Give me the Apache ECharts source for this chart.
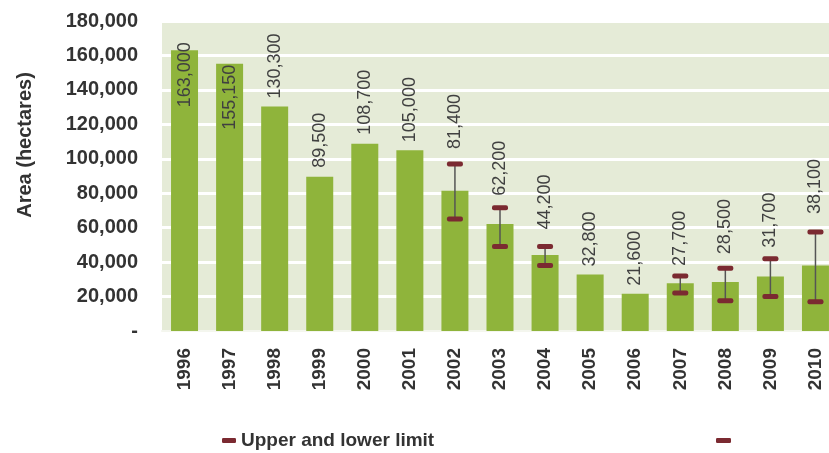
<!DOCTYPE html>
<html>
<head>
<meta charset="utf-8">
<script src="https://cdn.jsdelivr.net/npm/echarts@6/dist/echarts.min.js"></script>
<style>
  html, body { margin: 0; padding: 0; background: #fff; }
  #chart { width: 829px; height: 453px; }
</style>
</head>
<body>
<div id="chart"></div>
<script>
  // data
  var years = ['1996', '1997', '1998', '1999', '2000', '2001', '2002', '2003', '2004', '2005', '2006', '2007', '2008', '2009', '2010']
  var area = [163000, 155150, 130300, 89500, 108700, 105000, 81400, 62200, 44200, 32800, 21600, 27700, 28500, 31700, 38100]
  var lowerLimit = [null, null, null, null, null, null, 65000, 49000, 38000, null, null, 22000, 17500, 20000, 17000]
  var upperLimit = [null, null, null, null, null, null, 97000, 71500, 49000, null, null, 32000, 36500, 42000, 57500]

  // label placement (px above bar / upper limit; negative = inside the bar)
  var labelGap = [-8, 1, 8, 9, 9, 8, 15, 12, 17, 8, 8, 10, 14, 11, 18]

  var FONT = 'Liberation Sans, Arial, sans-serif'
  var capColor = '#7b2a31'

  var errData = []
  var labelData = []
  for (var i = 0; i < years.length; i++) {
    if (lowerLimit[i] != null) errData.push([i, lowerLimit[i], upperLimit[i]])
    labelData.push([i, area[i]])
  }

  var chart = echarts.init(document.getElementById('chart'))
  var option = {
    animation: false,
    textStyle: { fontFamily: FONT },
    grid: {
      left: 162, top: 21, bottom: 122, width: 676,
      outerBoundsMode: 'none',
      show: true, backgroundColor: '#e5ebd7', borderWidth: 0
    },
    legend: [
      {
        data: ['Upper and lower limit'],
        left: 217, top: 426,
        icon: 'roundRect', itemWidth: 14, itemHeight: 5, itemGap: 5,
        itemStyle: { color: capColor },
        textStyle: { fontFamily: FONT, fontSize: 19, fontWeight: 'bold', color: '#333' }
      },
      {
        data: ['Limit'],
        left: 711, top: 433,
        icon: 'roundRect', itemWidth: 15, itemHeight: 5,
        itemStyle: { color: capColor },
        formatter: function () { return '' },
        textStyle: { fontSize: 19 }
      }
    ],
    xAxis: {
      type: 'category',
      data: years,
      axisTick: { show: false },
      axisLine: { lineStyle: { color: '#f4f6ee', width: 2 } },
      axisLabel: {
        rotate: 90, margin: 17, interval: 0,
        fontFamily: FONT, fontSize: 19, fontWeight: 'bold', color: '#333'
      }
    },
    yAxis: {
      type: 'value',
      min: 0, max: 180000, interval: 20000,
      name: 'Area (hectares)',
      nameLocation: 'middle',
      nameGap: 127,
      nameTextStyle: {
        fontFamily: FONT, fontSize: 20, fontWeight: 'bold', color: '#333',
        padding: [0, 0, 0, 62]
      },
      axisLine: { show: false },
      axisTick: { show: false },
      splitLine: { lineStyle: { color: '#ffffff', width: 3 } },
      axisLabel: {
        margin: 24,
        fontFamily: FONT, fontSize: 20, fontWeight: 'bold', color: '#333',
        formatter: function (v) { return v === 0 ? '-' : v.toLocaleString('en-US') }
      }
    },
    series: [
      {
        name: 'Area',
        type: 'bar',
        data: area,
        barWidth: 27,
        itemStyle: { color: '#8fb43b' }
      },
      {
        name: 'Upper and lower limit',
        type: 'custom',
        data: errData,
        z: 3,
        itemStyle: { color: capColor },
        renderItem: function (params, api) {
          var x = api.value(0)
          var lo = api.coord([x, api.value(1)])
          var hi = api.coord([x, api.value(2)])
          var cw = 16, ch = 5
          return {
            type: 'group',
            children: [
              {
                type: 'line',
                shape: { x1: lo[0], y1: lo[1], x2: hi[0], y2: hi[1] },
                style: { stroke: '#555555', lineWidth: 1.5 }
              },
              {
                type: 'rect',
                shape: { x: hi[0] - cw / 2, y: hi[1] - ch / 2, width: cw, height: ch, r: 2 },
                style: { fill: capColor }
              },
              {
                type: 'rect',
                shape: { x: lo[0] - cw / 2, y: lo[1] - ch / 2, width: cw, height: ch, r: 2 },
                style: { fill: capColor }
              }
            ]
          }
        }
      },
      {
        name: 'Limit',
        type: 'custom',
        data: [],
        itemStyle: { color: capColor },
        renderItem: function () { return null }
      },
      {
        name: 'Labels',
        type: 'custom',
        data: labelData,
        z: 4,
        silent: true,
        renderItem: function (params, api) {
          var i = api.value(0)
          var v = api.value(1)
          var top = Math.max(v, upperLimit[i] || 0)
          var p = api.coord([i, top])
          var gap = labelGap[i]
          var inside = gap < 0 || i < 2
          return {
            type: 'text',
            x: p[0],
            y: inside ? p[1] + gap : p[1] - gap,
            rotation: Math.PI / 2,
            style: {
              text: v.toLocaleString('en-US'),
              fontFamily: FONT,
              fontSize: 18,
              fill: '#404040',
              align: inside ? 'right' : 'left',
              verticalAlign: 'middle'
            }
          }
        }
      }
    ]
  }
  chart.setOption(option)
  window.addEventListener('resize', function () {
    chart.resize()
  })
</script>
</body>
</html>
